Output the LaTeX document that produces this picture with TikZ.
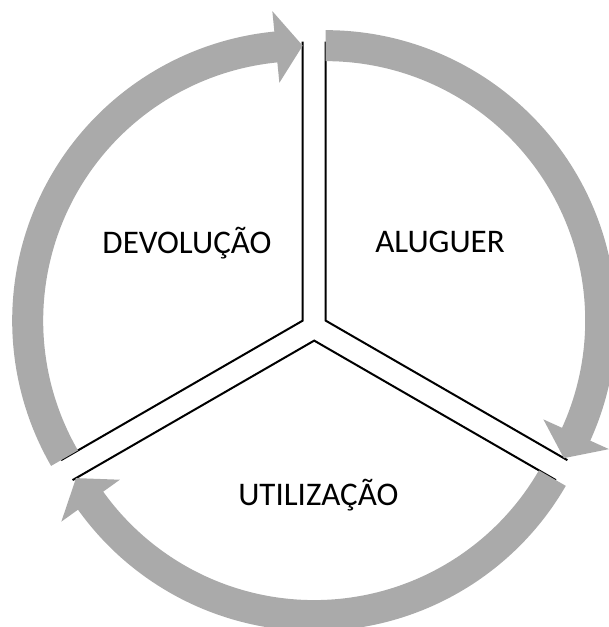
\documentclass[tikz,border=0pt]{standalone}
\usepackage{fontspec}
\setmainfont{Carlito}
\usetikzlibrary{calc}
\definecolor{arrowgray}{RGB}{170,170,170}
\newcommand{\cycarrow}[3]{%
  \pgfmathsetmacro\arrowback{#3+5.6}%
  \begin{scope}[shift={(#1)}]
    \fill[cyclearrow] (#2:290.5pt) arc[start angle=#2,end angle=\arrowback,radius=290.5pt]
      -- (\arrowback:311pt) -- (#3:275pt) -- (\arrowback:239pt) -- (\arrowback:259.5pt)
      arc[start angle=\arrowback,end angle=#2,radius=259.5pt] -- cycle;
  \end{scope}}
\begin{document}
\begin{tikzpicture}[x=1pt,y=1pt,
  seg/.style={draw=black,line width=2pt},
  cyclearrow/.style={fill=arrowgray,draw=none},
  lbl/.style={font=\fontsize{33}{40}\selectfont,anchor=base,inner sep=0pt}]
\useasboundingbox (0,0) rectangle (609,-627);
\coordinate (C) at (314.2,-327.3);
\coordinate (A) at ($(C)+(30:13.3pt)$);
\coordinate (D) at ($(C)+(150:13.3pt)$);
\coordinate (U) at ($(C)+(270:13.3pt)$);
\coordinate (A1) at ($(A)+(90:279pt)$);
\coordinate (A2) at ($(A)+(-30:279pt)$);
\coordinate (D1) at ($(D)+(90:279pt)$);
\coordinate (D2) at ($(D)+(210:279pt)$);
\coordinate (U1) at ($(U)+(-30:279pt)$);
\coordinate (U2) at ($(U)+(210:279pt)$);
\draw[seg] (A1) -- (A) -- (A2);
\draw[seg] (D1) -- (D) -- (D2);
\draw[seg] (U1) -- (U) -- (U2);
\cycarrow{D}{210}{90}
\cycarrow{A}{90}{-30}
\cycarrow{U}{-30}{-150}
\node[lbl] (dev) at (187,-253) {DEVOLUÇÃO};
\node[lbl] (alu) at (440,-252.7) {ALUGUER};
\node[lbl] (uti) at (318.3,-505.5) {UTILIZAÇÃO};
\end{tikzpicture}
\end{document}
